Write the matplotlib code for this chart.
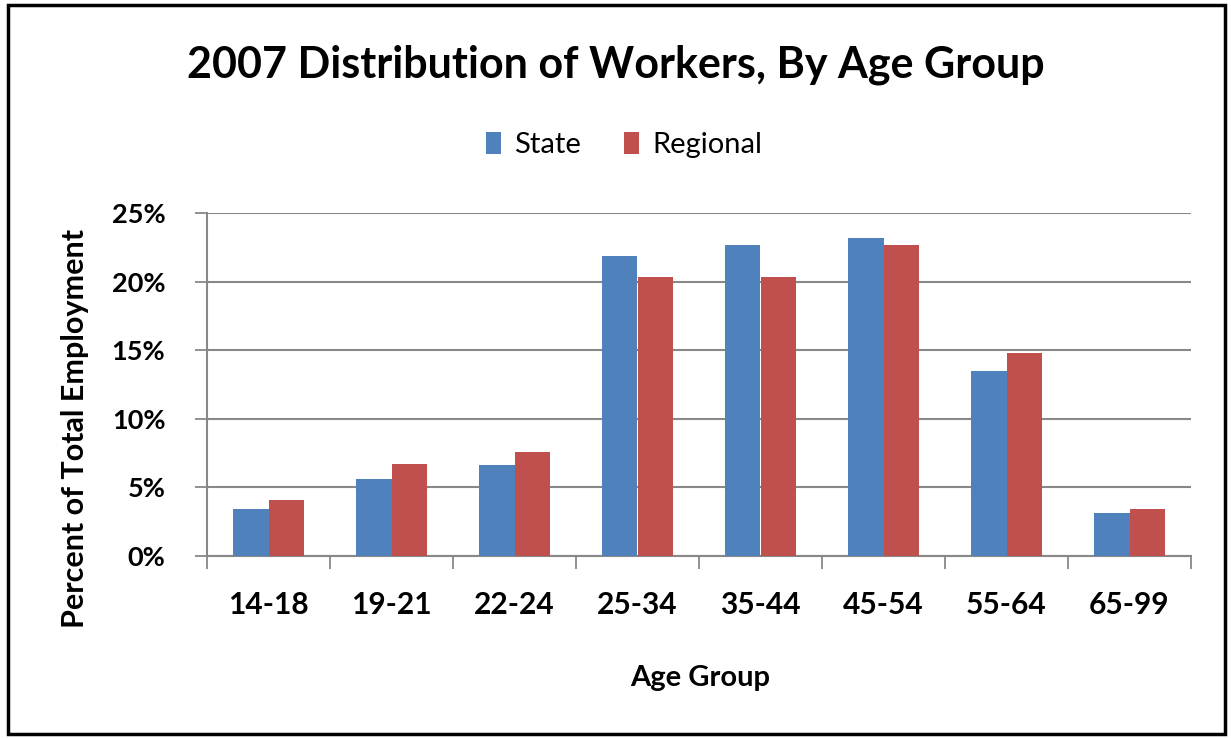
import matplotlib.pyplot as plt
import numpy as np
from matplotlib.patches import Rectangle

# data
ages = ['14-18', '19-21', '22-24', '25-34', '35-44', '45-54', '55-64', '65-99']
state = [3.4, 5.6, 6.6, 21.9, 22.7, 23.2, 13.5, 3.1]
regional = [4.1, 6.7, 7.6, 20.3, 20.3, 22.7, 14.8, 3.4]
yticks = [0, 5, 10, 15, 20, 25]

blue = '#4F81BD'
red = '#C0504D'
grid = '#888888'

plt.rcParams['font.family'] = ['Lato', 'DejaVu Sans']

fig = plt.figure(figsize=(12.31, 7.38), dpi=100)
ax = fig.add_axes([207/1231, 1 - 556/738, (1191 - 207)/1231, (556 - 213)/738])

x = np.arange(len(ages))
w = 0.2857
ax.bar(x - w/2, state, w, color=blue, label='State', zorder=3)
ax.bar(x + w/2, regional, w, color=red, label='Regional', zorder=3)

ax.set_xlim(-0.5, len(ages) - 0.5)
ax.set_ylim(0, 25)
ax.set_yticks(yticks)
ax.set_yticklabels([f'{v}%' for v in yticks], fontsize=19.5, fontweight='bold')
ax.yaxis.grid(True, color=grid, lw=1.5, zorder=0)
ax.tick_params(axis='y', length=9, width=1.3, color=grid, pad=21)

# category labels centred, tick marks between categories
ax.set_xticks(x)
ax.set_xticklabels(ages, fontsize=21.5, fontweight='bold')
ax.tick_params(axis='x', which='major', length=0, pad=25)
ax.set_xticks(np.arange(-0.5, len(ages)), minor=True)
ax.tick_params(axis='x', which='minor', length=9, width=1.3, color=grid)

for s in ['top', 'right']:
    ax.spines[s].set_visible(False)
for s in ['left', 'bottom']:
    ax.spines[s].set_color(grid)
    ax.spines[s].set_linewidth(1.5)

ax.set_ylabel('Percent of Total Employment', fontsize=22, fontweight='bold', va='center')
ax.yaxis.set_label_coords((75 - 207)/984, (556 - 428)/343)
ax.set_xlabel('Age Group', fontsize=21, fontweight='bold', va='center')
ax.xaxis.set_label_coords((700 - 207)/984, (556 - 678)/343)

fig.text(0.5, 1 - 65/738, '2007 Distribution of Workers, By Age Group',
         ha='center', va='center', fontsize=31, fontweight='bold')

fig.legend(loc='center', bbox_to_anchor=(0.507, 1 - 145/738), ncol=2,
           frameon=False, fontsize=21, handlelength=0.5, handleheight=0.8,
           handletextpad=0.45, columnspacing=1.5)

# outer frame
fig.patches.append(Rectangle((8/1231, 1 - 734/738), (1225 - 8)/1231, (734 - 5)/738,
                             transform=fig.transFigure, fill=False,
                             edgecolor='black', lw=2.5))

fig.savefig('out.png', dpi=100)
